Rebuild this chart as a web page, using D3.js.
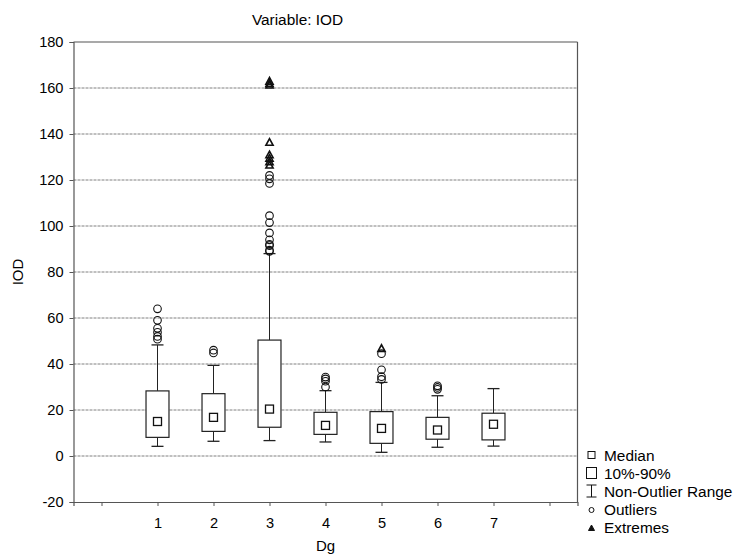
<!DOCTYPE html>
<html><head><meta charset="utf-8">
<script src="https://cdn.jsdelivr.net/npm/d3@7"></script>
<style>
body{margin:0;background:#fff;}
text{font-family:"Liberation Sans",Arial,sans-serif;fill:#000;}
</style></head>
<body><svg id="c" width="735" height="556"></svg>
<script>
const categories = [1, 2, 3, 4, 5, 6, 7];
const medians    = [15, 16.8, 20.4, 13.3, 12, 11.3, 13.8];
const p10        = [8.1, 10.7, 12.5, 9.4, 5.5, 7.3, 7];
const p90        = [28.3, 27.1, 50.4, 19, 19.3, 16.8, 18.6];
const whiskerLow = [4.2, 6.4, 6.7, 6.1, 1.6, 3.8, 4.3];
const whiskerHigh= [48.3, 39.4, 88, 28.4, 32, 26.2, 29.3];
const outliers = [
  [64, 59, 55.5, 53.8, 52, 50.8],
  [46, 44.8],
  [122, 120.5, 118.5, 104.5, 101.5, 97, 94, 92, 91.5, 89.5, 89],
  [34.3, 33.5, 32.5, 30],
  [44.5, 37.5, 34.5, 33.3],
  [30.5, 29.8, 29],
  []
];
const extremes = [
  [], [], [163, 162, 161.3, 136.4, 131, 129.5, 128, 126.5], [], [46.8], [], []
];
const yTicks = [-20, 0, 20, 40, 60, 80, 100, 120, 140, 160, 180];
const xTicks = [0, 1, 2, 3, 4, 5, 6, 7, 8];
const legendItems = ["Median", "10%-90%", "Non-Outlier Range", "Outliers", "Extremes"];

const svg = d3.select("#c");
const L = 73.5, R = 577.5, T = 42, B = 502;
const x = d3.scaleLinear().domain([-0.5, 8.5]).range([L, R]);
const y = d3.scaleLinear().domain([-20, 180]).range([B, T]);

// grid
svg.append("g").selectAll("line").data(yTicks.filter(v => v > -20 && v < 180)).join("line")
  .attr("x1", L).attr("x2", R).attr("y1", d => y(d)).attr("y2", d => y(d))
  .attr("stroke", "#808080").attr("stroke-width", 1).attr("stroke-dasharray", "3,1");

// frame top/right
svg.append("line").attr("x1", L).attr("x2", R).attr("y1", T).attr("y2", T).attr("stroke", "#555").attr("stroke-width", 1.2);
svg.append("line").attr("x1", R).attr("x2", R).attr("y1", T).attr("y2", B).attr("stroke", "#555").attr("stroke-width", 1.2);

// axes
const yAxis = d3.axisLeft(y).tickValues(yTicks).tickSize(4).tickPadding(6).tickFormat(d => String(d));
const gy = svg.append("g").attr("transform", `translate(${L},0)`).call(yAxis);
gy.select(".domain").attr("stroke", "#555").attr("stroke-width", 1.2);
gy.selectAll(".tick line").attr("stroke", "#555");
gy.selectAll("text").style("font-size", "14.6px").attr("fill", "#000");

const xAxis = d3.axisBottom(x).tickValues(xTicks).tickSize(4).tickPadding(12)
  .tickFormat(d => categories.includes(d) ? String(d) : "");
const gx = svg.append("g").attr("transform", `translate(0,${B})`).call(xAxis);
gx.select(".domain").attr("stroke", "#555").attr("stroke-width", 1.2);
gx.selectAll(".tick line").attr("stroke", "#555");
gx.selectAll("text").style("font-size", "14.6px").attr("fill", "#000");

// titles
svg.append("text").attr("x", (L + R) / 2 - 28).attr("y", 25).attr("text-anchor", "middle")
  .style("font-size", "15.4px").text("Variable: IOD");
svg.append("text").attr("x", (L + R) / 2).attr("y", 551).attr("text-anchor", "middle")
  .style("font-size", "15px").text("Dg");
svg.append("text").attr("transform", `translate(23,${(T + B) / 2}) rotate(-90)`).attr("text-anchor", "middle")
  .style("font-size", "15px").text("IOD");

// boxes
const bw = 0.41 * (x(1) - x(0));
const cap = 12;
const g = svg.append("g");
categories.forEach((c, i) => {
  const cx = x(c);
  g.append("line").attr("x1", cx).attr("x2", cx).attr("y1", y(whiskerHigh[i])).attr("y2", y(p90[i])).attr("stroke", "#222");
  g.append("line").attr("x1", cx).attr("x2", cx).attr("y1", y(whiskerLow[i])).attr("y2", y(p10[i])).attr("stroke", "#222");
  g.append("line").attr("x1", cx - cap / 2).attr("x2", cx + cap / 2).attr("y1", y(whiskerHigh[i])).attr("y2", y(whiskerHigh[i])).attr("stroke", "#222").attr("stroke-width", 1.3);
  g.append("line").attr("x1", cx - cap / 2).attr("x2", cx + cap / 2).attr("y1", y(whiskerLow[i])).attr("y2", y(whiskerLow[i])).attr("stroke", "#222").attr("stroke-width", 1.3);
  g.append("rect").attr("x", cx - bw / 2).attr("width", bw).attr("y", y(p90[i])).attr("height", y(p10[i]) - y(p90[i]))
    .attr("fill", "#fff").attr("stroke", "#222").attr("stroke-width", 1.2);
  g.append("rect").attr("x", cx - 4).attr("y", y(medians[i]) - 4).attr("width", 8).attr("height", 8)
    .attr("fill", "#fff").attr("stroke", "#111").attr("stroke-width", 1.3);
  g.selectAll(null).data(outliers[i]).join("circle")
    .attr("cx", cx).attr("cy", d => y(d)).attr("r", 3.8)
    .attr("fill", "none").attr("stroke", "#111").attr("stroke-width", 1.1);
  g.selectAll(null).data(extremes[i]).join("path")
    .attr("d", d => `M${cx - 3.6},${y(d) + 3} L${cx + 3.6},${y(d) + 3} L${cx},${y(d) - 3.6} Z`)
    .attr("fill", "none").attr("stroke", "#111").attr("stroke-width", 1.6);
});

// legend
const lg = svg.append("g");
const lx = 591.5, ly0 = 455, step = 18;
legendItems.forEach((t, i) => {
  lg.append("text").attr("x", 604).attr("y", ly0 + i * step + 5.5).style("font-size", "15.4px").text(t);
});
lg.append("rect").attr("x", lx - 3.5).attr("y", ly0 - 3.5).attr("width", 7).attr("height", 7).attr("fill", "none").attr("stroke", "#111");
lg.append("rect").attr("x", lx - 5).attr("y", ly0 + step - 5.5).attr("width", 10).attr("height", 11).attr("fill", "none").attr("stroke", "#111");
const ny = ly0 + 2 * step;
lg.append("line").attr("x1", lx).attr("x2", lx).attr("y1", ny - 6).attr("y2", ny + 6).attr("stroke", "#111");
lg.append("line").attr("x1", lx - 5).attr("x2", lx + 5).attr("y1", ny - 6).attr("y2", ny - 6).attr("stroke", "#111");
lg.append("line").attr("x1", lx - 5).attr("x2", lx + 5).attr("y1", ny + 6).attr("y2", ny + 6).attr("stroke", "#111");
lg.append("circle").attr("cx", lx).attr("cy", ly0 + 3 * step + 1).attr("r", 2.5).attr("fill", "none").attr("stroke", "#111");
const ey = ly0 + 4 * step + 1;
lg.append("path").attr("d", `M${lx - 3},${ey + 2.5} L${lx + 3},${ey + 2.5} L${lx},${ey - 3} Z`).attr("fill", "#111").attr("stroke", "#111");
</script></body></html>
